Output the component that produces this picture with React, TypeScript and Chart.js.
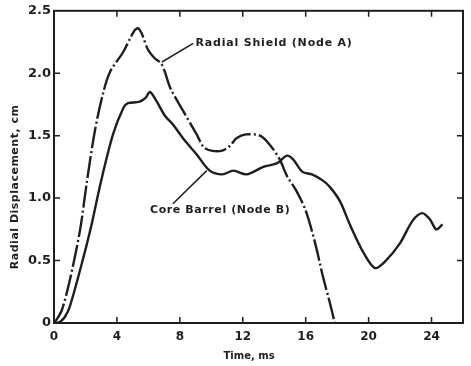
import React, { useEffect, useRef } from "react";
import { Chart, registerables } from "chart.js";

Chart.register(...registerables);

// ---- data ----
const radialTime = [0, 0.13, 0.49, 1.0, 1.65, 2.1, 2.6, 3.1, 3.56, 4.4, 5.1, 5.35, 5.57, 5.97, 6.4, 6.8, 7.05, 7.4, 8.2, 9.07, 9.5, 10.0, 10.7, 11.2, 11.6, 12.2, 13.1, 13.7, 14.35, 14.8, 15.4, 16.0, 16.6, 17.1, 17.5, 17.85];
const radialDisp = [0, 0.02, 0.1, 0.34, 0.74, 1.14, 1.54, 1.83, 2.01, 2.17, 2.34, 2.36, 2.32, 2.19, 2.12, 2.08, 2.01, 1.88, 1.7, 1.51, 1.41, 1.38, 1.38, 1.42, 1.48, 1.51, 1.5, 1.43, 1.31, 1.18, 1.06, 0.9, 0.64, 0.37, 0.18, 0.0];

const coreTime = [0.2, 0.4, 0.7, 1.0, 1.65, 2.3, 3.0, 3.75, 4.4, 4.7, 5.4, 5.8, 6.1, 6.5, 7.05, 7.56, 8.2, 9.07, 9.9, 10.7, 11.4, 12.25, 13.3, 14.2, 14.8, 15.2, 15.8, 16.4, 17.1, 17.6, 18.2, 18.8, 19.6, 20.4, 21.1, 22.0, 22.8, 23.4, 23.9, 24.3, 24.7];
const coreDisp = [0, 0.01, 0.05, 0.13, 0.42, 0.74, 1.14, 1.51, 1.72, 1.76, 1.77, 1.8, 1.85, 1.78, 1.66, 1.59, 1.48, 1.35, 1.22, 1.19, 1.22, 1.19, 1.25, 1.28, 1.34, 1.31, 1.21, 1.19, 1.14, 1.08, 0.97, 0.79, 0.58, 0.44, 0.5, 0.64, 0.82, 0.88, 0.83, 0.75, 0.79];

const xTickValues = [0, 4, 8, 12, 16, 20, 24];
const yTickValues = [0, 0.5, 1.0, 1.5, 2.0, 2.5];
const yTickLabels = ["0", "0.5", "1.0", "1.5", "2.0", "2.5"];
const seriesNames = ["Radial Shield (Node A)", "Core Barrel (Node B)"];
const xTitle = "Time, ms";
const yTitle = "Radial Displacement, cm";

const INK = "#1e1e1e";
const FONT = "'DejaVu Sans', sans-serif";

const framePlugin = {
  id: "frame",
  beforeDraw(chart: any) {
    const ctx = chart.ctx;
    ctx.save();
    ctx.fillStyle = "#ffffff";
    ctx.fillRect(0, 0, chart.width, chart.height);
    ctx.restore();
  },
  afterDraw(chart: any) {
    const { ctx, chartArea: a } = chart;
    const x = chart.scales.x;
    const y = chart.scales.y;
    ctx.save();
    ctx.strokeStyle = INK;
    ctx.lineWidth = 2;
    ctx.strokeRect(a.left, a.top, a.right - a.left, a.bottom - a.top);
    const L = 6;
    ctx.lineWidth = 1.5;
    ctx.beginPath();
    xTickValues.forEach((v) => {
      if (v === 0) return;
      const px = x.getPixelForValue(v);
      ctx.moveTo(px, a.bottom);
      ctx.lineTo(px, a.bottom - L);
      ctx.moveTo(px, a.top);
      ctx.lineTo(px, a.top + L);
    });
    yTickValues.forEach((v) => {
      if (v === 0 || v === 2.5) return;
      const py = y.getPixelForValue(v);
      ctx.moveTo(a.left, py);
      ctx.lineTo(a.left + L, py);
      ctx.moveTo(a.right, py);
      ctx.lineTo(a.right - L, py);
    });
    ctx.stroke();

    // annotations
    ctx.fillStyle = INK;
    ctx.font = `bold 11px ${FONT}`;
    ctx.textBaseline = "middle";
    ctx.textAlign = "left";
    try { (ctx as any).letterSpacing = "0.8px"; } catch (e) {}
    ctx.fillText(seriesNames[0], x.getPixelForValue(9.0), y.getPixelForValue(2.24));
    try { (ctx as any).letterSpacing = "0.6px"; } catch (e) {}
    ctx.fillText(seriesNames[1], x.getPixelForValue(6.1), y.getPixelForValue(0.9));
    ctx.lineWidth = 1.5;
    ctx.beginPath();
    ctx.moveTo(x.getPixelForValue(8.85), y.getPixelForValue(2.24));
    ctx.lineTo(x.getPixelForValue(6.86), y.getPixelForValue(2.09));
    ctx.moveTo(x.getPixelForValue(7.56), y.getPixelForValue(0.955));
    ctx.lineTo(x.getPixelForValue(9.71), y.getPixelForValue(1.22));
    ctx.stroke();

    // axis titles
    ctx.textAlign = "center";
    try { (ctx as any).letterSpacing = "0px"; } catch (e) {}
    ctx.font = `bold 10px ${FONT}`;
    ctx.fillText(xTitle, x.getPixelForValue(12.4), 356);
    ctx.font = `bold 11px ${FONT}`;
    try { (ctx as any).letterSpacing = "0.5px"; } catch (e) {}
    ctx.save();
    ctx.translate(15, y.getPixelForValue(1.09));
    ctx.rotate(-Math.PI / 2);
    ctx.fillText(yTitle, 0, 0);
    ctx.restore();
    ctx.restore();
  },
};

export default function App() {
  const ref = useRef<HTMLCanvasElement | null>(null);
  useEffect(() => {
    document.body.style.margin = "0";
    const canvas = ref.current;
    if (!canvas) return;
    const chart = new Chart(canvas, {
      type: "line",
      data: {
        datasets: [
          {
            label: seriesNames[0],
            data: radialTime.map((t, i) => ({ x: t, y: radialDisp[i] })),
            borderColor: INK,
            borderWidth: 2.4,
            borderDash: [22, 3, 2, 3],
            pointRadius: 0,
            tension: 0.3,
            fill: false,
          },
          {
            label: seriesNames[1],
            data: coreTime.map((t, i) => ({ x: t, y: coreDisp[i] })),
            borderColor: INK,
            borderWidth: 2.4,
            pointRadius: 0,
            tension: 0.3,
            fill: false,
          },
        ],
      },
      options: {
        animation: false,
        responsive: false,
        devicePixelRatio: 1,
        layout: { padding: { left: 0, top: 9, right: 8, bottom: 0 } },
        plugins: { legend: { display: false }, tooltip: { enabled: false } },
        scales: {
          x: {
            type: "linear",
            min: 0,
            max: 26,
            grid: { display: false, drawTicks: false },
            border: { display: false },
            afterBuildTicks: (s: any) => {
              s.ticks = xTickValues.map((v) => ({ value: v }));
            },
            afterFit: (s: any) => {
              s.height = 43;
            },
            ticks: {
              color: INK,
              padding: 7,
              maxRotation: 0,
              autoSkip: false,
              font: { family: FONT, size: 12, weight: "bold" },
              callback: (v: any) => String(v),
            },
          },
          y: {
            type: "linear",
            min: 0,
            max: 2.5,
            grid: { display: false, drawTicks: false },
            border: { display: false },
            afterBuildTicks: (s: any) => {
              s.ticks = yTickValues.map((v) => ({ value: v }));
            },
            afterFit: (s: any) => {
              s.width = 54;
            },
            ticks: {
              color: INK,
              padding: 3,
              autoSkip: false,
              font: { family: FONT, size: 13, weight: "bold" },
              callback: (v: any) => {
                const i = yTickValues.indexOf(Number(v));
                return i >= 0 ? yTickLabels[i] : "";
              },
            },
          },
        },
      },
      plugins: [framePlugin],
    });
    return () => chart.destroy();
  }, []);
  return (
    <div style={{ position: "absolute", left: 0, top: 0, width: 471, height: 366 }}>
      <canvas ref={ref} width={471} height={366} style={{ display: "block" }} />
    </div>
  );
}
